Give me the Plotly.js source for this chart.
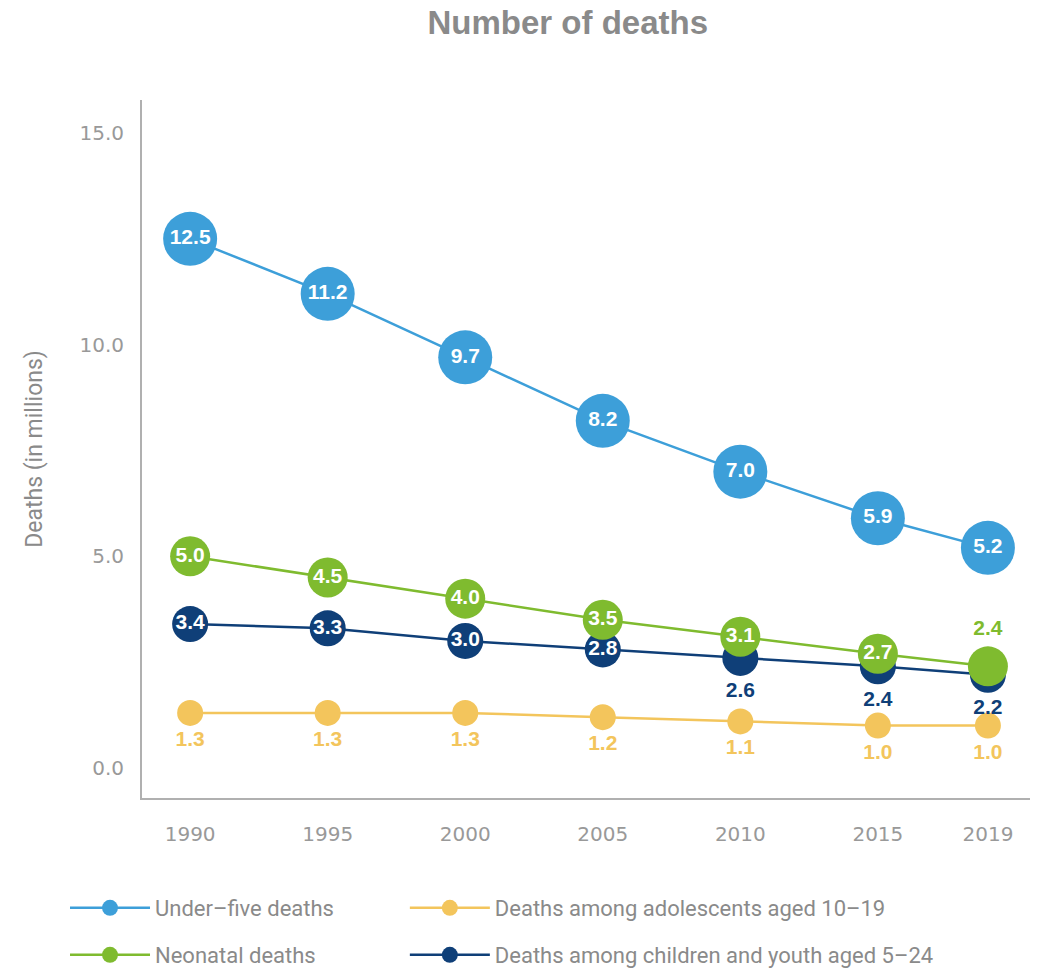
<!DOCTYPE html>
<html>
<head>
<meta charset="utf-8">
<script src="https://cdn.plot.ly/plotly-3.0.1.min.js"></script>
<style>html,body{margin:0;padding:0;background:#fff;}#chart{width:1038px;height:972px;}</style>
</head>
<body>
<div id="chart"></div>
<script>
const years = [1990, 1995, 2000, 2005, 2010, 2015, 2019];
const underFive = [12.5, 11.2, 9.7, 8.2, 7.0, 5.9, 5.2];
const neonatal = [5.0, 4.5, 4.0, 3.5, 3.1, 2.7, 2.4];
const youth5to24 = [3.4, 3.3, 3.0, 2.8, 2.6, 2.4, 2.2];
const adolescents = [1.3, 1.3, 1.3, 1.2, 1.1, 1.0, 1.0];
const yTicks = [0, 5, 10, 15];
const yTickLabels = ['0.0', '5.0', '10.0', '15.0'];
const xTickLabels = ['1990', '1995', '2000', '2005', '2010', '2015', '2019'];

const cBlue = '#3d9fd9', cGreen = '#7fbb2f', cNavy = '#0f3f78', cYellow = '#f3c55c';
const lblFont = 'Liberation Sans, Arial, sans-serif';
const fmt = v => v.toFixed(1);

const traces = [
  {
    name: 'Deaths among adolescents aged 10\u201319', legend: 'legend2',
    x: years, y: adolescents, mode: 'lines+markers+text',
    line: {color: cYellow, width: 2.5},
    marker: {color: cYellow, size: 26},
    text: adolescents.map(fmt), textposition: 'bottom center',
    textfont: {color: cYellow, size: 21, family: lblFont, weight: 'bold'},
    hoverinfo: 'skip'
  },
  {
    name: 'Deaths among children and youth aged 5\u201324', legend: 'legend4',
    x: years, y: youth5to24, mode: 'lines+markers+text',
    line: {color: cNavy, width: 2.5},
    marker: {color: cNavy, size: 36},
    text: youth5to24.map(fmt),
    textposition: ['middle center','middle center','middle center','middle center','bottom center','bottom center','bottom center'],
    textfont: {color: ['#fff','#fff','#fff','#fff',cNavy,cNavy,cNavy], size: 21, family: lblFont, weight: 'bold'},
    hoverinfo: 'skip'
  },
  {
    name: 'Neonatal deaths', legend: 'legend3',
    x: years, y: neonatal, mode: 'lines+markers+text',
    line: {color: cGreen, width: 2.5},
    marker: {color: cGreen, size: 40},
    text: neonatal.map(fmt),
    textposition: ['middle center','middle center','middle center','middle center','middle center','middle center','top center'],
    textfont: {color: ['#fff','#fff','#fff','#fff','#fff','#fff',cGreen], size: 21, family: lblFont, weight: 'bold'},
    hoverinfo: 'skip'
  },
  {
    name: 'Under\u2013five deaths', legend: 'legend',
    x: years, y: underFive, mode: 'lines+markers+text',
    line: {color: cBlue, width: 2.5},
    marker: {color: cBlue, size: 54},
    text: underFive.map(fmt), textposition: 'middle center',
    textfont: {color: '#fff', size: 21, family: lblFont, weight: 'bold'},
    hoverinfo: 'skip'
  }
];

const legendFont = {family: 'Roboto, sans-serif', size: 22, color: '#8a8a8a'};
const mkLegend = (x, y) => ({
  orientation: 'h', xanchor: 'left', yanchor: 'middle', x: x, y: y,
  font: legendFont, itemwidth: 80, bgcolor: 'rgba(0,0,0,0)'
});

const layout = {
  width: 1038, height: 972,
  margin: {l: 142, r: 8, t: 100, b: 174, autoexpand: false},
  paper_bgcolor: '#fff', plot_bgcolor: '#fff',
  title: {
    text: '<b>Number of deaths</b>',
    font: {family: 'Liberation Sans, Arial, sans-serif', size: 33, color: '#8a8a8a'},
    x: 0.547, xanchor: 'center', y: 0.977, yanchor: 'middle'
  },
  xaxis: {
    range: [1988.25, 2020.53],
    tickvals: years, ticktext: xTickLabels,
    showgrid: false, zeroline: false,
    showline: true, linecolor: '#b0b0b0', linewidth: 2,
    ticks: 'outside', ticklen: 17, tickcolor: 'rgba(0,0,0,0)',
    tickfont: {family: 'DejaVu Sans, sans-serif', size: 20, color: '#999'}
  },
  yaxis: {
    range: [-0.71, 15.78],
    tickvals: yTicks, ticktext: yTickLabels,
    showgrid: false, zeroline: false,
    showline: true, linecolor: '#b0b0b0', linewidth: 2,
    ticks: 'outside', ticklen: 12, tickcolor: 'rgba(0,0,0,0)',
    tickfont: {family: 'DejaVu Sans, sans-serif', size: 20, color: '#999'},
    title: {text: 'Deaths (in millions)', standoff: 30,
      font: {family: 'Roboto, sans-serif', size: 23, color: '#8a8a8a'}}
  },
  showlegend: true,
  legend: mkLegend(-0.0867, -0.1576),
  legend2: mkLegend(0.296, -0.1576),
  legend3: mkLegend(-0.0867, -0.225),
  legend4: mkLegend(0.296, -0.225)
};

Plotly.newPlot('chart', traces, layout, {staticPlot: true});
</script>
</body>
</html>
